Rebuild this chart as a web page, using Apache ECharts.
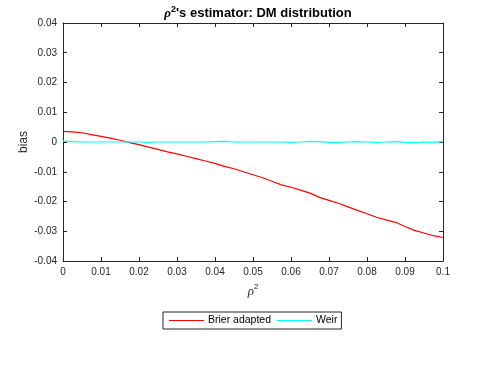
<!DOCTYPE html>
<html><head><meta charset="utf-8">
<script src="https://cdn.jsdelivr.net/npm/echarts@6/dist/echarts.min.js"></script>
<style>html,body{margin:0;padding:0;background:#fff}#c{width:488px;height:367px}</style>
</head><body><div id="c"></div>
<script>
const rho2 = [0,0.0025,0.005,0.0075,0.01,0.0125,0.015,0.0175,0.02,0.0225,0.025,0.0275,0.03,0.0325,0.035,0.0375,0.04,0.0425,0.045,0.0475,0.05,0.0525,0.055,0.0575,0.06,0.0625,0.065,0.0675,0.07,0.0725,0.075,0.0775,0.08,0.0825,0.085,0.0875,0.09,0.0925,0.095,0.0975,0.1];
const brier = [0.0036,0.0034,0.0031,0.0025,0.0019,0.0013,0.0006,-0.0002,-0.0009,-0.0017,-0.0025,-0.0033,-0.0040,-0.0048,-0.0056,-0.0064,-0.0072,-0.0082,-0.0090,-0.0100,-0.0110,-0.0120,-0.0132,-0.0144,-0.0152,-0.0162,-0.0172,-0.0186,-0.0196,-0.0206,-0.0218,-0.0230,-0.0241,-0.0253,-0.0262,-0.0270,-0.0284,-0.0297,-0.0306,-0.0315,-0.0321];
const weir = [0.0003,0.0001,0.0000,0.0000,0.0000,0.0000,0.0000,0.0000,0.0000,-0.0001,0.0000,0.0000,0.0000,0.0000,0.0000,0.0000,0.0001,0.0002,0.0000,0.0000,0.0000,0.0000,0.0000,0.0000,-0.0001,0.0000,0.0002,0.0001,-0.0001,-0.0001,0.0000,0.0001,0.0000,-0.0001,0.0000,0.0001,-0.0001,-0.0002,0.0000,-0.0001,0.0001];
const xTicks = [0,0.01,0.02,0.03,0.04,0.05,0.06,0.07,0.08,0.09,0.1];
const yTicks = [-0.04,-0.03,-0.02,-0.01,0,0.01,0.02,0.03,0.04];
const seriesNames = ['Brier adapted','Weir'];

const axCol = '#262626';
const font = 'Liberation Sans, Arial, sans-serif';
const fmt = v => { const r = Math.round(v*100)/100; return r === 0 ? '0' : String(r); };
const chart = echarts.init(document.getElementById('c'));
const baseX = {type:'value', min:xTicks[0], max:xTicks[xTicks.length-1], interval:0.01,
  axisLine:{show:true,onZero:false,lineStyle:{color:axCol,width:1}}, splitLine:{show:false},
  axisTick:{show:true,inside:true,length:4,lineStyle:{color:axCol}}};
const baseY = {type:'value', min:yTicks[0], max:yTicks[yTicks.length-1], interval:0.01,
  axisLine:{show:true,onZero:false,lineStyle:{color:axCol,width:1}}, splitLine:{show:false},
  axisTick:{show:true,inside:true,length:4,lineStyle:{color:axCol}}};
chart.setOption({
  animation:false,
  backgroundColor:'#fff',
  title:{
    text:'{r|ρ}{s|2}{b|\'s estimator: DM distribution}',
    left:253, top:0, textAlign:'center',
    textStyle:{rich:{
      r:{fontFamily:'Liberation Serif, serif',fontStyle:'italic',fontSize:13,color:'#000',verticalAlign:'bottom',lineHeight:15},
      s:{fontFamily:font,fontWeight:'bold',fontSize:9,color:'#000',verticalAlign:'top',lineHeight:15},
      b:{fontFamily:font,fontWeight:'bold',fontSize:13,color:'#000',verticalAlign:'bottom',lineHeight:15}
    }}
  },
  grid:{left:63,right:45,top:23,bottom:106,containLabel:false},
  xAxis:[
    Object.assign({}, baseX, {position:'bottom',
      name:'{r|ρ}{s|2}', nameLocation:'middle', nameGap:22, nameMoveOverlap:false,
      nameTextStyle:{rich:{
        r:{fontFamily:'Liberation Serif, serif',fontStyle:'italic',fontSize:13,color:axCol,verticalAlign:'bottom',lineHeight:15},
        s:{fontFamily:font,fontSize:8,color:axCol,verticalAlign:'top',lineHeight:15}}},
      axisLabel:{color:axCol,fontFamily:font,fontSize:10,margin:6,formatter:fmt}}),
    Object.assign({}, baseX, {position:'top', axisLabel:{show:false}})
  ],
  yAxis:[
    Object.assign({}, baseY, {position:'left',
      name:'bias', nameLocation:'middle', nameGap:33, nameRotate:90, nameMoveOverlap:false,
      nameTextStyle:{color:axCol,fontFamily:font,fontSize:12},
      axisLabel:{color:axCol,fontFamily:font,fontSize:10,margin:6,formatter:fmt}}),
    Object.assign({}, baseY, {position:'right', axisLabel:{show:false}})
  ],
  legend:{
    data:seriesNames, left:163, top:312, orient:'horizontal',
    borderColor:axCol, borderWidth:1, padding:[3,4,3,6], itemGap:6,
    itemWidth:35, itemHeight:1, icon:'rect',
    textStyle:{color:'#000',fontFamily:font,fontSize:10.5,padding:[0,0,0,-1]}
  },
  series:[
    {name:seriesNames[0], type:'line', showSymbol:false, symbol:'none', color:'#ff0000',
     lineStyle:{width:1.2,color:'#ff0000'}, data:rho2.map((x,i)=>[x,brier[i]])},
    {name:seriesNames[1], type:'line', showSymbol:false, symbol:'none', color:'#00ffff',
     lineStyle:{width:1.2,color:'#00ffff'}, data:rho2.map((x,i)=>[x,weir[i]])}
  ]
});
</script></body></html>
